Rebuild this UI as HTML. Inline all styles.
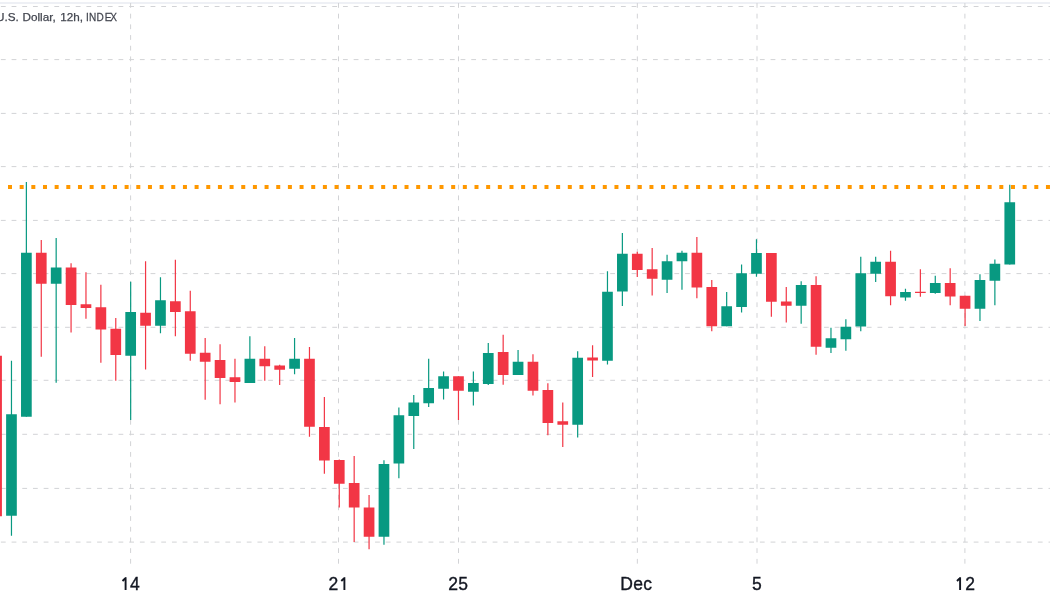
<!DOCTYPE html>
<html><head><meta charset="utf-8"><style>
html,body{margin:0;padding:0;background:#fff;width:1050px;height:600px;overflow:hidden}
svg{display:block;will-change:transform}
.t{font-family:"Liberation Sans",sans-serif}
</style></head><body>
<svg width="1050" height="600" viewBox="0 0 1050 600">
<rect x="0" y="2" width="1050" height="2" fill="#eef0f5"/>
<line x1="0" y1="6.5" x2="1050" y2="6.5" stroke="#d2d3d6" stroke-width="1" stroke-dasharray="4.8 5.89" stroke-dashoffset="-0.9"/>
<line x1="0" y1="59.6" x2="1050" y2="59.6" stroke="#d2d3d6" stroke-width="1" stroke-dasharray="4.8 5.89" stroke-dashoffset="-0.9"/>
<line x1="0" y1="113.4" x2="1050" y2="113.4" stroke="#d2d3d6" stroke-width="1" stroke-dasharray="4.8 5.89" stroke-dashoffset="-0.9"/>
<line x1="0" y1="166.6" x2="1050" y2="166.6" stroke="#d2d3d6" stroke-width="1" stroke-dasharray="4.8 5.89" stroke-dashoffset="-0.9"/>
<line x1="0" y1="220.4" x2="1050" y2="220.4" stroke="#d2d3d6" stroke-width="1" stroke-dasharray="4.8 5.89" stroke-dashoffset="-0.9"/>
<line x1="0" y1="273.6" x2="1050" y2="273.6" stroke="#d2d3d6" stroke-width="1" stroke-dasharray="4.8 5.89" stroke-dashoffset="-0.9"/>
<line x1="0" y1="327.3" x2="1050" y2="327.3" stroke="#d2d3d6" stroke-width="1" stroke-dasharray="4.8 5.89" stroke-dashoffset="-0.9"/>
<line x1="0" y1="380.3" x2="1050" y2="380.3" stroke="#d2d3d6" stroke-width="1" stroke-dasharray="4.8 5.89" stroke-dashoffset="-0.9"/>
<line x1="0" y1="434.3" x2="1050" y2="434.3" stroke="#d2d3d6" stroke-width="1" stroke-dasharray="4.8 5.89" stroke-dashoffset="-0.9"/>
<line x1="0" y1="488.4" x2="1050" y2="488.4" stroke="#d2d3d6" stroke-width="1" stroke-dasharray="4.8 5.89" stroke-dashoffset="-0.9"/>
<line x1="0" y1="542.1" x2="1050" y2="542.1" stroke="#d2d3d6" stroke-width="1" stroke-dasharray="4.8 5.89" stroke-dashoffset="-0.9"/>
<line x1="130.6" y1="3" x2="130.6" y2="564" stroke="#d2d3d6" stroke-width="1" stroke-dasharray="4.8 5.89"/>
<line x1="338.5" y1="3" x2="338.5" y2="564" stroke="#d2d3d6" stroke-width="1" stroke-dasharray="4.8 5.89"/>
<line x1="458.5" y1="3" x2="458.5" y2="564" stroke="#d2d3d6" stroke-width="1" stroke-dasharray="4.8 5.89"/>
<line x1="637.35" y1="3" x2="637.35" y2="564" stroke="#d2d3d6" stroke-width="1" stroke-dasharray="4.8 5.89"/>
<line x1="757" y1="3" x2="757" y2="564" stroke="#d2d3d6" stroke-width="1" stroke-dasharray="4.8 5.89"/>
<line x1="964.9" y1="3" x2="964.9" y2="564" stroke="#d2d3d6" stroke-width="1" stroke-dasharray="4.8 5.89"/>
<path d="M8.00 185h4v4h-4zM19.66 185h4v4h-4zM31.33 185h4v4h-4zM42.99 185h4v4h-4zM54.65 185h4v4h-4zM66.31 185h4v4h-4zM77.97 185h4v4h-4zM89.64 185h4v4h-4zM101.30 185h4v4h-4zM112.96 185h4v4h-4zM124.62 185h4v4h-4zM136.29 185h4v4h-4zM147.95 185h4v4h-4zM159.61 185h4v4h-4zM171.27 185h4v4h-4zM182.94 185h4v4h-4zM194.60 185h4v4h-4zM206.26 185h4v4h-4zM217.92 185h4v4h-4zM229.59 185h4v4h-4zM241.25 185h4v4h-4zM252.91 185h4v4h-4zM264.57 185h4v4h-4zM276.24 185h4v4h-4zM287.90 185h4v4h-4zM299.56 185h4v4h-4zM311.23 185h4v4h-4zM322.89 185h4v4h-4zM334.55 185h4v4h-4zM346.21 185h4v4h-4zM357.88 185h4v4h-4zM369.54 185h4v4h-4zM381.20 185h4v4h-4zM392.86 185h4v4h-4zM404.53 185h4v4h-4zM416.19 185h4v4h-4zM427.85 185h4v4h-4zM439.51 185h4v4h-4zM451.18 185h4v4h-4zM462.84 185h4v4h-4zM474.50 185h4v4h-4zM486.16 185h4v4h-4zM497.83 185h4v4h-4zM509.49 185h4v4h-4zM521.15 185h4v4h-4zM532.81 185h4v4h-4zM544.48 185h4v4h-4zM556.14 185h4v4h-4zM567.80 185h4v4h-4zM579.46 185h4v4h-4zM591.13 185h4v4h-4zM602.79 185h4v4h-4zM614.45 185h4v4h-4zM626.11 185h4v4h-4zM637.78 185h4v4h-4zM649.44 185h4v4h-4zM661.10 185h4v4h-4zM672.76 185h4v4h-4zM684.43 185h4v4h-4zM696.09 185h4v4h-4zM707.75 185h4v4h-4zM719.41 185h4v4h-4zM731.08 185h4v4h-4zM742.74 185h4v4h-4zM754.40 185h4v4h-4zM766.06 185h4v4h-4zM777.73 185h4v4h-4zM789.39 185h4v4h-4zM801.05 185h4v4h-4zM812.71 185h4v4h-4zM824.38 185h4v4h-4zM836.04 185h4v4h-4zM847.70 185h4v4h-4zM859.36 185h4v4h-4zM871.03 185h4v4h-4zM882.69 185h4v4h-4zM894.35 185h4v4h-4zM906.01 185h4v4h-4zM917.68 185h4v4h-4zM929.34 185h4v4h-4zM941.00 185h4v4h-4zM952.66 185h4v4h-4zM964.33 185h4v4h-4zM975.99 185h4v4h-4zM987.65 185h4v4h-4zM999.31 185h4v4h-4zM1010.98 185h4v4h-4zM1022.64 185h4v4h-4zM1034.30 185h4v4h-4zM1045.96 185h4v4h-4z" fill="#ff9800"/>
<path d="M10.87 360.8H12.07V535.8H10.87zM25.77 181.9H26.97V416.8H25.77zM55.57 238.0H56.77V382.8H55.57zM130.07 281.7H131.27V420.0H130.07zM159.87 277.2H161.07V333.3H159.87zM249.27 336.3H250.47V383.0H249.27zM293.97 338.0H295.17V374.2H293.97zM383.37 460.2H384.57V544.7H383.37zM398.27 407.5H399.47V478.3H398.27zM413.17 395.0H414.37V449.0H413.17zM428.07 358.8H429.27V407.0H428.07zM442.97 371.4H444.17V399.6H442.97zM472.77 371.6H473.97V405.4H472.77zM487.67 343.0H488.87V385.0H487.67zM517.47 350.0H518.67V375.0H517.47zM577.07 351.3H578.27V437.5H577.07zM606.87 271.3H608.07V364.6H606.87zM621.77 233.0H622.97V306.0H621.77zM666.47 254.7H667.67V293.0H666.47zM681.37 250.8H682.57V289.7H681.37zM726.07 292.0H727.27V326.3H726.07zM740.97 264.5H742.17V312.6H740.97zM755.87 239.2H757.07V276.7H755.87zM800.57 281.2H801.77V323.7H800.57zM830.37 327.8H831.57V353.0H830.37zM845.27 319.2H846.47V350.8H845.27zM860.17 256.7H861.37V331.3H860.17zM875.07 256.7H876.27V282.0H875.07zM904.87 288.7H906.07V300.8H904.87zM934.67 275.8H935.87V293.8H934.67zM979.37 274.2H980.57V321.0H979.37zM994.27 259.6H995.47V305.2H994.27zM1009.17 184.7H1010.37V264.4H1009.17z" fill="#089981"/>
<path d="M-4.03 355.8H-2.83V516.2H-4.03zM40.67 240.0H41.87V356.7H40.67zM70.47 263.3H71.67V332.5H70.47zM85.37 272.2H86.57V318.8H85.37zM100.27 284.7H101.47V362.8H100.27zM115.17 318.0H116.37V380.8H115.17zM144.97 261.3H146.17V369.5H144.97zM174.77 259.7H175.97V336.3H174.77zM189.67 290.8H190.87V360.8H189.67zM204.57 338.0H205.77V399.7H204.57zM219.47 344.2H220.67V404.2H219.47zM234.37 358.8H235.57V402.5H234.37zM264.17 346.2H265.37V380.8H264.17zM279.07 364.7H280.27V385.0H279.07zM308.87 347.0H310.07V436.7H308.87zM323.77 397.0H324.97V473.7H323.77zM338.67 459.5H339.87V507.6H338.67zM353.57 456.0H354.77V542.0H353.57zM368.47 495.0H369.67V549.3H368.47zM457.87 376.3H459.07V420.0H457.87zM502.57 334.7H503.77V384.7H502.57zM532.37 354.2H533.57V395.5H532.37zM547.27 383.2H548.47V435.3H547.27zM562.17 402.5H563.37V447.0H562.17zM591.97 345.3H593.17V377.0H591.97zM636.67 251.7H637.87V277.0H636.67zM651.57 248.0H652.77V295.5H651.57zM696.27 237.0H697.47V298.3H696.27zM711.17 280.0H712.37V331.3H711.17zM770.77 253.0H771.97V316.7H770.77zM785.67 287.0H786.87V322.5H785.67zM815.47 276.3H816.67V354.7H815.47zM889.97 250.8H891.17V305.3H889.97zM919.77 269.2H920.97V296.7H919.77zM949.57 268.3H950.77V305.2H949.57zM964.47 295.8H965.67V326.0H964.47z" fill="#f23645"/>
<path d="M6.12 414.2h10.7v101.6h-10.7zM21.02 252.8h10.7v164.0h-10.7zM50.82 267.5h10.7v16.3h-10.7zM125.32 312.0h10.7v43.8h-10.7zM155.12 300.3h10.7v25.4h-10.7zM244.52 358.8h10.7v24.2h-10.7zM289.22 358.8h10.7v9.9h-10.7zM378.62 464.0h10.7v72.7h-10.7zM393.52 415.2h10.7v48.4h-10.7zM408.42 402.5h10.7v13.5h-10.7zM423.32 388.0h10.7v15.3h-10.7zM438.22 376.3h10.7v12.4h-10.7zM468.02 383.0h10.7v8.7h-10.7zM482.92 353.0h10.7v30.9h-10.7zM512.72 361.7h10.7v13.3h-10.7zM572.32 357.8h10.7v66.9h-10.7zM602.12 291.7h10.7v69.1h-10.7zM617.02 253.8h10.7v37.7h-10.7zM661.72 261.3h10.7v18.4h-10.7zM676.62 252.8h10.7v8.5h-10.7zM721.32 306.3h10.7v20.0h-10.7zM736.22 273.3h10.7v33.7h-10.7zM751.12 253.0h10.7v20.7h-10.7zM795.82 285.0h10.7v20.8h-10.7zM825.62 338.3h10.7v9.5h-10.7zM840.52 326.7h10.7v12.5h-10.7zM855.42 273.3h10.7v53.2h-10.7zM870.32 261.7h10.7v12.1h-10.7zM900.12 292.0h10.7v5.5h-10.7zM929.92 283.0h10.7v10.0h-10.7zM974.62 280.0h10.7v28.8h-10.7zM989.52 263.7h10.7v17.1h-10.7zM1004.42 202.2h10.7v62.2h-10.7z" fill="#089981"/>
<path d="M-8.78 355.8h10.7v160.4h-10.7zM35.92 252.8h10.7v31.0h-10.7zM65.72 267.5h10.7v37.5h-10.7zM80.62 304.2h10.7v3.8h-10.7zM95.52 307.2h10.7v22.2h-10.7zM110.42 328.7h10.7v26.3h-10.7zM140.22 312.8h10.7v12.9h-10.7zM170.02 301.3h10.7v10.7h-10.7zM184.92 311.2h10.7v42.5h-10.7zM199.82 352.8h10.7v8.9h-10.7zM214.72 360.0h10.7v18.0h-10.7zM229.62 377.2h10.7v4.8h-10.7zM259.42 358.8h10.7v7.5h-10.7zM274.32 365.5h10.7v4.2h-10.7zM304.12 358.8h10.7v68.0h-10.7zM319.02 427.0h10.7v33.6h-10.7zM333.92 460.0h10.7v23.7h-10.7zM348.82 483.0h10.7v24.5h-10.7zM363.72 507.5h10.7v29.2h-10.7zM453.12 376.3h10.7v14.4h-10.7zM497.82 352.0h10.7v23.0h-10.7zM527.62 361.7h10.7v29.1h-10.7zM542.52 390.0h10.7v33.0h-10.7zM557.42 421.2h10.7v3.5h-10.7zM587.22 357.5h10.7v3.1h-10.7zM631.92 253.8h10.7v16.2h-10.7zM646.82 269.2h10.7v9.6h-10.7zM691.52 252.8h10.7v34.8h-10.7zM706.42 287.0h10.7v39.3h-10.7zM766.02 253.0h10.7v48.7h-10.7zM780.92 301.5h10.7v4.3h-10.7zM810.72 285.0h10.7v61.7h-10.7zM885.22 261.7h10.7v34.6h-10.7zM915.02 291.7h10.7v1.3h-10.7zM944.82 283.0h10.7v13.4h-10.7zM959.72 295.8h10.7v13.0h-10.7z" fill="#f23645"/>
<g class="t" font-size="11.7" fill="#42454f" stroke="#42454f" stroke-width="0.25"><text x="-4" y="21.2">U.S.</text><text x="22.5" y="21.2">Dollar,</text><text x="60.3" y="21.2">12h,</text><text transform="translate(86.1,21.2) scale(0.86,1)" x="0 3.4 12.0 21.6 28.1" y="0">INDEX</text></g>
<g class="t" font-size="17.5" fill="#131722" stroke="#131722" stroke-width="0.35" letter-spacing="0.3"><text x="130.0" y="590">4</text><text x="328.6" y="590">2</text><text x="448.3" y="590">25</text><text x="620.2" y="590">Dec</text><text x="751.9" y="590">5</text><text x="965.2" y="590">2</text></g>
<path d="M125.60 577.2V590M122.50 581.0L125.90 577.6M344.40 577.2V590M341.30 581.0L344.70 577.6M960.10 577.2V590M957.00 581.0L960.40 577.6" fill="none" stroke="#131722" stroke-width="1.9"/>
</svg>
</body></html>
